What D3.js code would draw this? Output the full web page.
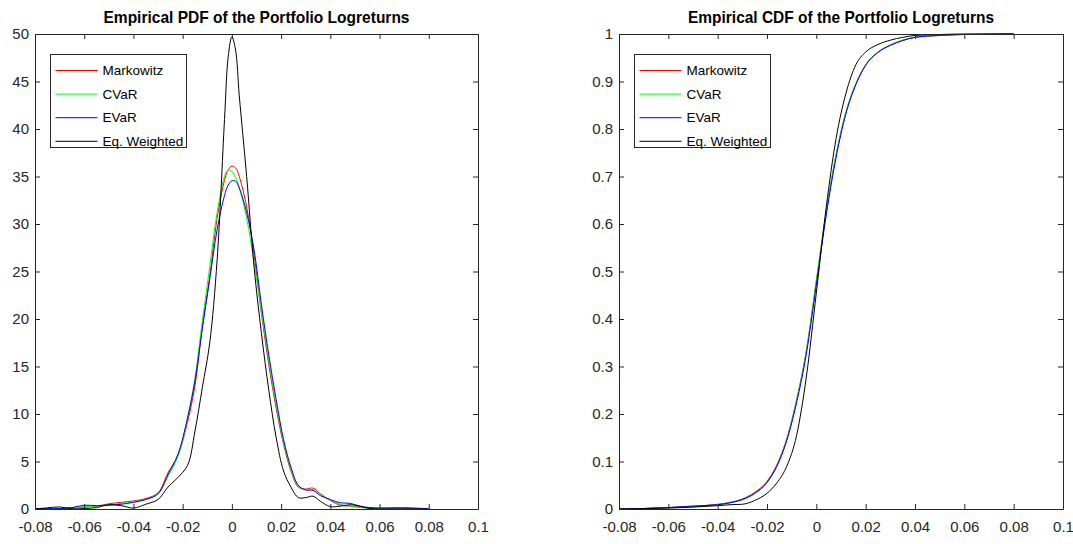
<!DOCTYPE html>
<html>
<head>
<meta charset="utf-8">
<script src="https://cdn.jsdelivr.net/npm/d3@7"></script>
<style>
  body { margin: 0; background: #fff; }
  svg { display: block; }
  text { font-family: "Liberation Sans", Arial, Helvetica, sans-serif; fill: #262626; }
</style>
</head>
<body>
<script>
// Series names and colours, in legend order
const seriesNames = ["Markowitz", "CVaR", "EVaR", "Eq. Weighted"];
const seriesColors = ["#ff0000", "#00ff00", "#0000ff", "#000000"];

// Kernel density estimates
const pdfX = [-0.08, -0.075, -0.07, -0.065, -0.06, -0.055, -0.05, -0.045, -0.04, -0.035,
  -0.03, -0.026, -0.022, -0.018, -0.015, -0.012, -0.009, -0.006, -0.003, -0.0015, 0, 0.0015,
  0.003, 0.006, 0.009, 0.012, 0.015, 0.018, 0.021, 0.024, 0.027, 0.03,
  0.033, 0.036, 0.04, 0.044, 0.048, 0.052, 0.056, 0.06, 0.065, 0.07, 0.075, 0.08];
const pdfMarkowitz = [0.02, 0.03, 0.05, 0.1, 0.2, 0.3, 0.55, 0.7, 0.85, 1.1,
  1.7, 3.8, 5.6, 9.2, 13.0, 19.2, 24.5, 30.6, 34.6, 35.7, 36.1, 35.9,
  35.0, 31.8, 26.8, 20.6, 15.2, 10.6, 6.8, 4.0, 2.3, 2.1,
  2.2, 1.6, 0.9, 0.4, 0.3, 0.2, 0.1, 0.08, 0.12, 0.1, 0.05, 0.02];
const pdfCVaR = [0.02, 0.03, 0.05, 0.1, 0.25, 0.3, 0.45, 0.6, 0.75, 1.0,
  1.6, 3.4, 5.5, 9.6, 13.8, 19.8, 25.5, 31.2, 35.0, 35.7, 35.5, 34.9,
  33.8, 30.6, 26.0, 20.8, 15.6, 11.0, 7.0, 4.2, 2.4, 2.05,
  2.05, 1.5, 0.95, 0.5, 0.3, 0.15, 0.1, 0.08, 0.1, 0.12, 0.08, 0.02];
const pdfEVaR = [0.02, 0.03, 0.05, 0.15, 0.4, 0.35, 0.4, 0.5, 0.7, 1.0,
  1.6, 3.6, 5.7, 9.6, 13.5, 19.0, 24.2, 29.4, 33.0, 34.1, 34.55, 34.5,
  33.8, 31.2, 27.3, 21.5, 16.2, 11.5, 7.3, 4.4, 2.5, 2.0,
  1.95, 1.4, 1.0, 0.65, 0.6, 0.3, 0.15, 0.1, 0.1, 0.12, 0.08, 0.03];
const pdfEqual = [0.02, 0.12, 0.22, 0.02, 0.05, 0.15, 0.45, 0.35, 0.1, 0.5,
  1.0, 2.3, 3.3, 4.6, 8.2, 12.8, 17.5, 26.2, 41.0, 47.6, 49.7, 48.3,
  43.5, 35.0, 25.5, 18.5, 12.5, 7.5, 4.0, 2.3, 1.2, 1.2,
  1.35, 0.8, 0.25, 0.3, 0.45, 0.3, 0.05, 0.0, 0.0, 0.0, 0.0, 0.0];

// Empirical CDFs
const cdfX = [-0.08, -0.07, -0.06, -0.05, -0.04, -0.035, -0.03, -0.025, -0.02, -0.016,
  -0.012, -0.008, -0.004, 0, 0.004, 0.008, 0.012, 0.016, 0.02, 0.025,
  0.03, 0.035, 0.04, 0.05, 0.06, 0.07, 0.08];
const cdfMarkowitz = [0, 0.001, 0.003, 0.006, 0.01, 0.014, 0.021, 0.035, 0.058, 0.093,
  0.148, 0.23, 0.335, 0.48, 0.625, 0.745, 0.835, 0.895, 0.935, 0.962,
  0.977, 0.987, 0.993, 0.997, 0.999, 0.9995, 1.0];
const cdfCVaR = [0, 0.001, 0.003, 0.005, 0.009, 0.013, 0.019, 0.032, 0.055, 0.09,
  0.145, 0.228, 0.334, 0.48, 0.626, 0.746, 0.836, 0.895, 0.935, 0.962,
  0.977, 0.987, 0.993, 0.997, 0.999, 0.9995, 1.0];
const cdfEVaR = [0, 0.001, 0.003, 0.006, 0.009, 0.013, 0.02, 0.033, 0.056, 0.09,
  0.144, 0.224, 0.328, 0.472, 0.618, 0.74, 0.832, 0.893, 0.934, 0.961,
  0.976, 0.986, 0.993, 0.997, 0.999, 0.9995, 1.0];
const cdfEqual = [0, 0.001, 0.002, 0.004, 0.007, 0.009, 0.01, 0.018, 0.033, 0.055,
  0.09, 0.155, 0.28, 0.455, 0.635, 0.78, 0.875, 0.935, 0.962, 0.978,
  0.987, 0.993, 0.997, 0.999, 1.0, 1.0, 1.0];

// Tick values
const xTicks = [-0.08, -0.06, -0.04, -0.02, 0, 0.02, 0.04, 0.06, 0.08, 0.1];
const pdfTicks = [0, 5, 10, 15, 20, 25, 30, 35, 40, 45, 50];
const cdfTicks = [0, 0.1, 0.2, 0.3, 0.4, 0.5, 0.6, 0.7, 0.8, 0.9, 1];

const width = 1073, height = 544;
const axisColor = "#262626";

const svg = d3.select("body").append("svg")
  .attr("width", width)
  .attr("height", height);

const fmt = (d) => (d === 0 ? "0" : String(+d.toFixed(2)));

function drawPanel(p) {
  const x = d3.scaleLinear().domain([-0.08, 0.1]).range([p.left, p.right]);
  const y = d3.scaleLinear().domain(p.yDomain).range([p.bottom, p.top]);
  const g = svg.append("g");

  // clip for the data lines
  const clipId = "clip-" + p.id;
  svg.append("clipPath").attr("id", clipId)
    .append("rect")
    .attr("x", p.left).attr("y", p.top - 1)
    .attr("width", p.right - p.left).attr("height", p.bottom - p.top + 1);

  const line = d3.line()
    .x((d) => x(d[0]))
    .y((d) => y(d[1]))
    .curve(p.curve);

  const lines = g.append("g").attr("clip-path", `url(#${clipId})`);
  p.series.forEach((vals, i) => {
    lines.append("path")
      .datum(p.xs.map((xv, j) => [xv, vals[j]]))
      .attr("fill", "none")
      .attr("stroke", seriesColors[i])
      .attr("stroke-width", 1)
      .attr("d", line);
  });

  // axes, ticks pointing inward on all four sides
  const styleAxis = (sel) => {
    sel.attr("font-family", null);
    sel.select(".domain").attr("stroke", axisColor).attr("stroke-width", 1);
    sel.selectAll(".tick line").attr("stroke", axisColor);
    sel.selectAll(".tick text").attr("fill", axisColor).style("font-size", "15px");
  };

  g.append("g")
    .attr("transform", `translate(0,${p.bottom})`)
    .call(d3.axisBottom(x).tickValues(xTicks).tickFormat(fmt).tickSizeInner(-5).tickSizeOuter(0).tickPadding(12))
    .call(styleAxis);
  g.append("g")
    .attr("transform", `translate(0,${p.top})`)
    .call(d3.axisTop(x).tickValues(xTicks).tickFormat("").tickSizeInner(-5).tickSizeOuter(0))
    .call(styleAxis);
  g.append("g")
    .attr("transform", `translate(${p.left},0)`)
    .call(d3.axisLeft(y).tickValues(p.yTicks).tickFormat(fmt).tickSizeInner(-5).tickSizeOuter(0).tickPadding(6))
    .call(styleAxis);
  g.append("g")
    .attr("transform", `translate(${p.right},0)`)
    .call(d3.axisRight(y).tickValues(p.yTicks).tickFormat("").tickSizeInner(-5).tickSizeOuter(0))
    .call(styleAxis);

  // title
  svg.append("text")
    .attr("x", (p.left + p.right) / 2)
    .attr("y", p.top - 11)
    .attr("text-anchor", "middle")
    .attr("textLength", 306)
    .attr("lengthAdjust", "spacingAndGlyphs")
    .style("font-size", "17px")
    .style("font-weight", "bold")
    .style("fill", "#000")
    .text(p.title);

  // legend
  const lg = svg.append("g").attr("transform", `translate(${p.legendX},${p.legendY})`);
  lg.append("rect")
    .attr("width", 136).attr("height", 93)
    .attr("fill", "#fff").attr("stroke", axisColor).attr("stroke-width", 1);
  seriesNames.forEach((name, i) => {
    const ry = 16 + i * 23.6;
    lg.append("line")
      .attr("x1", 5).attr("x2", 47).attr("y1", ry).attr("y2", ry)
      .attr("stroke", seriesColors[i]).attr("stroke-width", 1);
    lg.append("text")
      .attr("x", 52).attr("y", ry).attr("dy", "0.35em")
      .style("font-size", "13.5px")
      .style("fill", "#000")
      .text(name);
  });
}

drawPanel({
  id: "pdf", left: 35, right: 478, top: 34, bottom: 509,
  yDomain: [0, 50], yTicks: pdfTicks, xs: pdfX,
  series: [pdfMarkowitz, pdfCVaR, pdfEVaR, pdfEqual],
  curve: d3.curveCatmullRom.alpha(0.5),
  title: "Empirical PDF of the Portfolio Logreturns",
  legendX: 50.5, legendY: 54.5
});

drawPanel({
  id: "cdf", left: 619, right: 1063, top: 34, bottom: 509,
  yDomain: [0, 1], yTicks: cdfTicks, xs: cdfX,
  series: [cdfMarkowitz, cdfCVaR, cdfEVaR, cdfEqual],
  curve: d3.curveMonotoneX,
  title: "Empirical CDF of the Portfolio Logreturns",
  legendX: 634.5, legendY: 54.5
});
</script>
</body>
</html>
